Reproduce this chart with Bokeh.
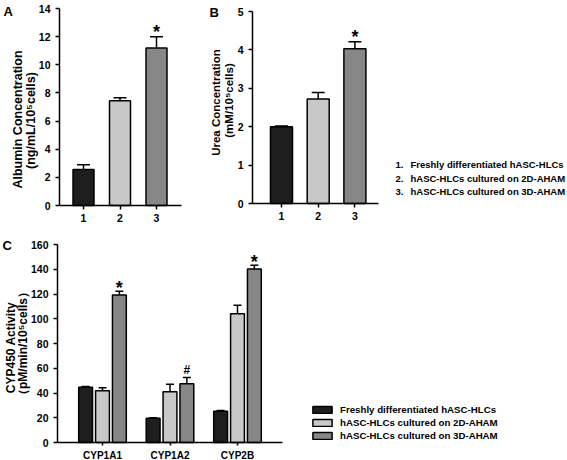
import math
from bokeh.plotting import figure
from bokeh.models import (ColumnDataSource, Whisker, TeeHead, Label, FixedTicker,
                          Legend, LegendItem, Range1d)
from bokeh.layouts import column, row
from bokeh.embed import file_html
from bokeh.resources import INLINE
from bokeh.core.properties import value

# ---------------- data ----------------
groups = ["1", "2", "3"]
albumin = [2.55, 7.45, 11.2]
albumin_err = [0.35, 0.2, 0.8]
albumin_sig = ["", "", "*"]

urea = [2.0, 2.72, 4.03]
urea_err = [0.02, 0.17, 0.18]
urea_sig = ["", "", "*"]

cyp_names = ["CYP1A1", "CYP1A2", "CYP2B"]
cyp_fresh = [44.7, 19.6, 25.3]
cyp_fresh_err = [0.5, 0.3, 0.5]
cyp_2d = [41.8, 41.0, 104.0]
cyp_2d_err = [2.5, 6.0, 7.0]
cyp_3d = [119.2, 47.5, 140.3]
cyp_3d_err = [3.0, 5.0, 3.0]
cyp_3d_sig = ["*", "#", "*"]

series_labels = ["Freshly differentiated hASC-HLCs",
                 "hASC-HLCs cultured on 2D-AHAM",
                 "hASC-HLCs cultured on 3D-AHAM"]
series_numbers = ["1.", "2.", "3."]
colors = ["#1e1e1e", "#c8c8c8", "#878787"]

FONT = "Liberation Sans"


def rng(size, px_a, a, px_b, b, flip=False):
    """Range covering a canvas of `size` px, where data a sits at px_a and b at px_b
    (px measured from left, or from top when flip=True)."""
    k = (b - a) / (px_b - px_a)
    if flip:
        top = a + (px_a - 0) * (-k)
        bottom = a + (px_a - size) * (-k)
        return Range1d(bottom, top)
    return Range1d(a - px_a * k, a + (size - px_a) * k)


def make_fig(w, h, xr, yr):
    p = figure(width=w, height=h, x_range=xr, y_range=yr, output_backend="svg",
               toolbar_location=None, min_border_left=0, min_border_right=0,
               min_border_top=0, min_border_bottom=0)
    p.xgrid.visible = False
    p.ygrid.visible = False
    p.outline_line_color = None
    p.background_fill_color = "white"
    p.border_fill_color = "white"
    return p


def style(p, x_axis_at, x_end, y_top, yticks, overrides):
    for ax in (p.xaxis[0], p.yaxis[0]):
        ax.axis_line_width = 1.5
        ax.axis_line_color = "black"
        ax.major_tick_line_width = 1.5
        ax.major_tick_line_color = "black"
        ax.major_tick_in = 0
        ax.major_tick_out = 4
        ax.minor_tick_line_color = None
        ax.major_label_text_font = FONT
        ax.major_label_text_font_style = "bold"
        ax.major_label_text_font_size = "10.5px"
        ax.major_label_text_color = "black"
    p.yaxis[0].fixed_location = x_axis_at
    p.yaxis[0].bounds = (0, y_top)
    p.yaxis[0].ticker = FixedTicker(ticks=yticks)
    p.yaxis[0].major_label_standoff = 5
    p.xaxis[0].fixed_location = 0
    p.xaxis[0].bounds = (x_axis_at, x_end)
    p.xaxis[0].ticker = FixedTicker(ticks=list(overrides.keys()))
    p.xaxis[0].major_label_standoff = 4
    p.xaxis[0].major_label_overrides = overrides


def add_label(p, x, y, text, size, angle=0.0, align="center", baseline="middle"):
    p.add_layout(Label(x=x, y=y, x_units="screen", y_units="screen", text=text,
                       angle=angle, text_align=align, text_baseline=baseline,
                       text_font=FONT, text_font_style="bold",
                       text_font_size=size, text_color="black"))


def simple_bars(p, vals, errs, sig, width, cap):
    xs = [i + 1 for i in range(len(vals))]
    src = ColumnDataSource(dict(x=xs, top=vals, lo=vals,
                                up=[v + e for v, e in zip(vals, errs)],
                                color=colors, sig=sig))
    p.vbar(x="x", top="top", width=width, bottom=0, source=src,
           fill_color="color", line_color="black", line_width=1.5)
    p.add_layout(Whisker(source=src, base="x", lower="lo", upper="up",
                         dimension="height", line_width=1.5, line_color="black",
                         upper_head=TeeHead(size=cap, line_width=1.5, line_color="black"),
                         lower_head=None, level="annotation"))
    p.text(x="x", y="up", text="sig", source=src, text_align="center",
           text_baseline="alphabetic", text_font=value(FONT), text_font_style="bold",
           text_font_size="18px", y_offset=-5, text_color="black")


# ---------------- Panel A (canvas 190 x 230 at 0,0) ----------------
pA = make_fig(190, 230, rng(190, 83, 1, 119.5, 2), rng(230, 205, 0, 8, 14, flip=True))
simple_bars(pA, albumin, albumin_err, albumin_sig, 0.575, 13)
style(pA, 1 - (83 - 59) / 36.5, 1 + (181 - 83) / 36.5, 14, list(range(0, 15, 2)),
      {i + 1: g for i, g in enumerate(groups)})
add_label(pA, 3, 219, "A", "13px", align="left")
add_label(pA, 17, 111, "Albumin Concentration", "12.5px", angle=math.pi / 2)
add_label(pA, 30, 110, "(ng/mL/10\u2075cells)", "12.5px", angle=math.pi / 2)

# ---------------- Panel B (canvas 377 x 230 at 190,0) ----------------
pB = make_fig(377, 230, rng(377, 281 - 190, 1, 317.7 - 190, 2), rng(230, 203, 0, 11, 5, flip=True))
simple_bars(pB, urea, urea_err, urea_sig, 0.6, 13)
style(pB, 1 - (281 - 252) / 36.7, 1 + (378 - 281) / 36.7, 5, [0, 1, 2, 3, 4, 5],
      {i + 1: g for i, g in enumerate(groups)})
add_label(pB, 19, 218.5, "B", "13px", align="left")
add_label(pB, 25, 128, "Urea Concentration", "11.5px", angle=math.pi / 2)
add_label(pB, 38, 130, "(mM/10\u2075cells)", "11.5px", angle=math.pi / 2)
for k, (num, lab) in enumerate(zip(series_numbers, series_labels)):
    yy = [66, 52, 39][k]
    add_label(pB, 205, yy, num, "9.5px", align="left")
    add_label(pB, 220, yy, lab, "9.5px", align="left")

# ---------------- Panel C (canvas 567 x 230 at 0,230) ----------------
pC = make_fig(567, 230, rng(567, 102, 1, 169.5, 2), rng(230, 442 - 230, 0, 244 - 230, 160, flip=True))
offsets = [-0.25, 0.0, 0.25]
series_vals = [cyp_fresh, cyp_2d, cyp_3d]
series_errs = [cyp_fresh_err, cyp_2d_err, cyp_3d_err]
items = []
for s in range(3):
    xs = [i + 1 + offsets[s] for i in range(len(cyp_names))]
    vals = series_vals[s]
    errs = series_errs[s]
    src = ColumnDataSource(dict(x=xs, top=vals, lo=vals,
                                up=[v + e for v, e in zip(vals, errs)]))
    r = pC.vbar(x="x", top="top", width=0.205, bottom=0, source=src,
                fill_color=colors[s], line_color="black", line_width=1.5)
    items.append(LegendItem(label=series_labels[s], renderers=[r]))
    pC.add_layout(Whisker(source=src, base="x", lower="lo", upper="up",
                          dimension="height", line_width=1.5, line_color="black",
                          upper_head=TeeHead(size=8, line_width=1.5, line_color="black"),
                          lower_head=None, level="annotation"))
    if s == 2:
        src.data["sig"] = cyp_3d_sig
        src.data["fs"] = ["18px" if t == "*" else "12px" for t in cyp_3d_sig]
        src.data["yo"] = [-3 if t == "*" else -8 for t in cyp_3d_sig]
        pC.text(x="x", y="up", text="sig", source=src, text_align="center",
                text_baseline="alphabetic", text_font=value(FONT), text_font_style="bold",
                text_font_size="fs", y_offset="yo", text_color="black")
style(pC, 1 - 45 / 67.5, 1 + (282 - 102) / 67.5, 160, list(range(0, 161, 20)),
      {i + 1: n for i, n in enumerate(cyp_names)})
pC.xaxis[0].major_tick_out = 3
pC.xaxis[0].major_label_standoff = 4
pC.xaxis[0].major_label_text_font_size = "10px"
add_label(pC, 2, 215.5, "C", "13px", align="left")
add_label(pC, 10, 113, "CYP450 Activity", "12px", angle=math.pi / 2)
add_label(pC, 22, 117, "\uff08pM/min/10\u2075cells\uff09", "12px", angle=math.pi / 2)

legend = Legend(items=items, location=(310, 19.5), orientation="vertical",
                glyph_width=24, glyph_height=9, label_height=11, spacing=2,
                label_standoff=6, padding=0, margin=0, border_line_color=None,
                background_fill_alpha=0, label_text_font=FONT,
                label_text_font_style="bold", label_text_font_size="9.7px",
                label_text_color="black")
pC.add_layout(legend, "center")

layout = column(row(pA, pB), pC)
open("out.html", "w").write(file_html(layout, INLINE))
